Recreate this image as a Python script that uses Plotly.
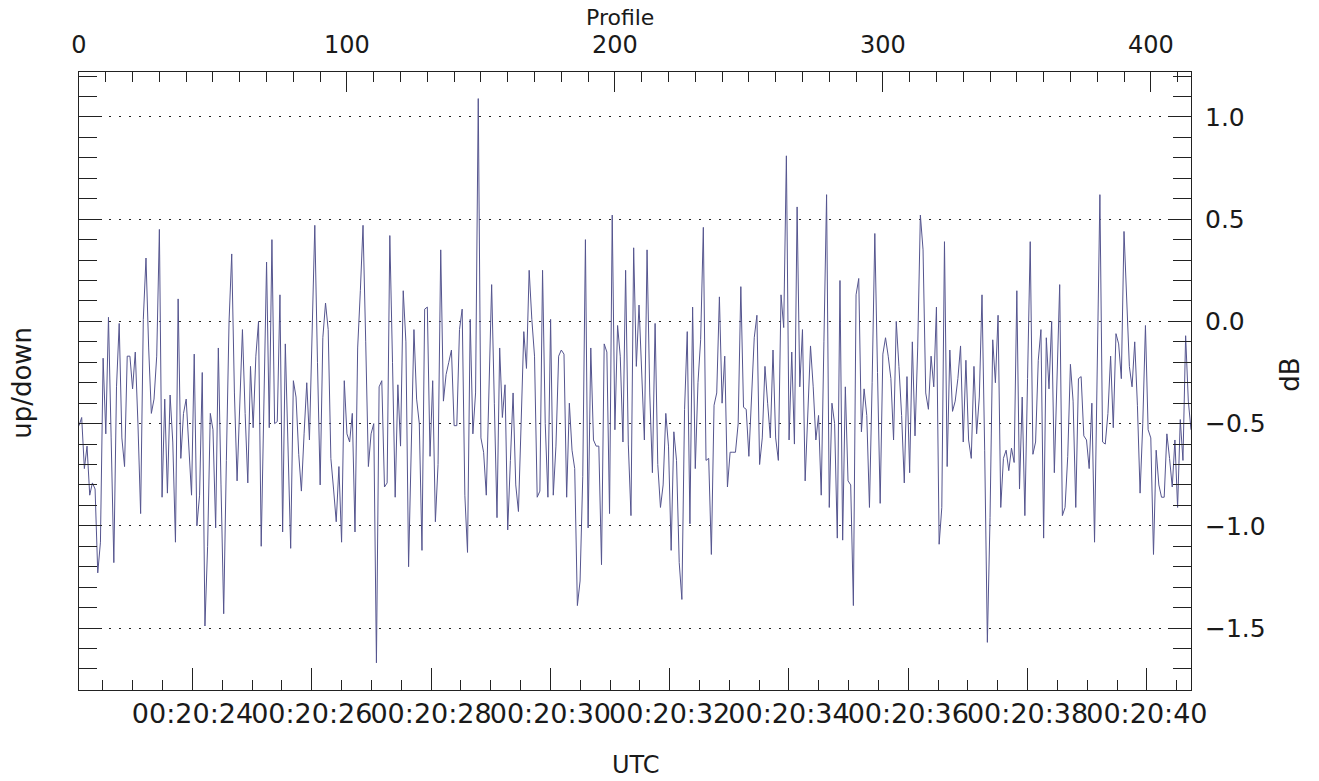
import numpy as np
import pandas as pd
import plotly.graph_objects as go

# ---- data ----
updown_db = [
    -0.51, -0.47, -0.72, -0.61, -0.85, -0.79, -0.82, -1.23, -1.08, -0.18,
    -0.55, 0.02, -0.57, -1.18, -0.32, -0.01, -0.57, -0.71, -0.17, -0.17,
    -0.33, -0.15, -0.50, -0.94, 0.01, 0.31, -0.13, -0.45, -0.38, -0.17,
    0.45, -0.86, -0.38, -0.84, -0.36, -0.59, -1.08, 0.11, -0.67, -0.45,
    -0.38, -0.60, -0.85, -0.16, -1.00, -0.85, -0.25, -1.49, -1.10, -0.45,
    -0.53, -1.01, -0.13, -0.80, -1.43, -0.68, 0.00, 0.33, -0.35, -0.78,
    -0.35, -0.04, -0.45, -0.79, -0.22, -0.52, -0.17, 0.00, -1.10, -0.30,
    0.29, -0.52, 0.40, -0.50, -0.49, 0.13, -1.03, -0.11, -0.60, -1.11,
    -0.29, -0.37, -0.65, -0.83, -0.55, -0.30, -0.58, -0.05, 0.47, -0.20,
    -0.80, -0.08, 0.09, -0.04, -0.67, -0.82, -0.98, -0.71, -1.08, -0.29,
    -0.55, -0.59, -0.45, -1.03, -0.13, 0.15, 0.47, -0.10, -0.71, -0.55,
    -0.50, -1.67, -0.32, -0.29, -0.81, -0.79, 0.42, -0.20, -0.86, -0.31,
    -0.61, 0.15, -0.10, -1.20, -0.60, -0.04, -0.38, -0.50, -1.12, 0.06,
    0.07, -0.66, -0.29, -0.98, -0.70, 0.35, -0.39, -0.26, -0.20, -0.14,
    -0.51, -0.51, -0.04, 0.06, -0.85, -1.13, 0.01, -0.55, -0.35, 1.09,
    -0.57, -0.64, -0.85, -0.30, 0.18, -0.40, -0.96, -0.13, -0.47, -0.31,
    -1.02, -0.68, -0.35, -0.80, -0.93, -0.50, -0.05, -0.23, 0.25, 0.01,
    -0.17, -0.86, -0.83, 0.25, -0.50, -0.86, 0.01, -0.85, -0.61, -0.17,
    -0.14, -0.16, -0.86, -0.40, -0.63, -0.72, -1.39, -1.27, -0.76, 0.40,
    -1.01, -0.13, -0.58, -0.61, -0.61, -1.19, -0.11, -0.15, -0.94, 0.52,
    -0.53, -0.02, -0.17, -0.59, 0.25, -0.60, -0.95, 0.36, -0.22, 0.08,
    -0.25, -0.58, 0.35, -0.35, -0.74, -0.01, -0.70, -0.91, -0.80, -0.45,
    -0.61, -1.12, -0.54, -0.68, -1.18, -1.36, -0.43, -0.05, -0.99, 0.07,
    -0.72, -0.30, -0.09, 0.46, -0.68, -0.67, -1.14, -0.41, -0.35, 0.12,
    -0.40, -0.17, -0.81, -0.64, -0.64, -0.64, -0.50, 0.17, -0.42, -0.43,
    -0.66, -0.35, -0.08, 0.03, -0.70, -0.57, -0.22, -0.40, -0.57, -0.14,
    -0.57, -0.68, 0.13, -0.03, 0.81, -0.58, -0.15, -0.60, 0.56, -0.32,
    -0.04, -0.78, -0.45, -0.12, -0.32, -0.58, -0.46, -0.85, -0.10, 0.62,
    -0.91, -0.40, -0.50, -1.06, 0.20, -1.07, -0.32, -0.78, -0.80, -1.39,
    0.13, 0.21, -0.54, -0.33, -0.46, -0.91, -0.30, 0.43, -0.25, -0.89,
    -0.16, -0.08, -0.17, -0.28, -0.58, 0.00, -0.22, -0.46, -0.79, -0.27,
    -0.74, -0.10, -0.56, -0.13, 0.52, 0.35, -0.35, -0.43, -0.17, -0.32,
    0.07, -1.09, -0.91, 0.39, -0.71, -0.14, -0.44, -0.39, -0.28, -0.12,
    -0.59, -0.19, -0.58, -0.67, -0.22, -0.55, -0.37, 0.13, -0.63, -1.57,
    -0.96, -0.09, -0.30, 0.03, -0.91, -0.67, -0.63, -0.73, -0.62, -0.69,
    0.15, -0.82, -0.37, -0.95, -0.28, 0.39, -0.65, -0.59, -0.19, -0.04,
    -1.06, -0.08, -0.33, 0.00, -0.74, -0.25, 0.18, -0.95, -0.91, -0.66,
    -0.21, -0.39, -0.91, -0.28, -0.27, -0.56, -0.58, -0.72, -0.40, -1.08,
    -0.13, 0.62, -0.59, -0.60, -0.45, -0.17, -0.52, -0.06, -0.11, -0.28,
    0.44, 0.12, -0.22, -0.32, -0.10, -0.41, -0.84, -0.50, -0.02, -0.53,
    -0.57, -1.14, -0.63, -0.80, -0.86, -0.86, -0.55, -0.67, -0.81, -0.58,
    -0.91, -0.48, -0.68, -0.07, -0.39, -0.53,
]
profile = list(range(len(updown_db)))

start_time = "2000-01-01 00:20:22.098"
seconds_per_profile = 0.04492

right_tick_vals = [-1.5, -1.0, -0.5, 0.0, 0.5, 1.0]
right_tick_text = ["\u22121.5", "\u22121.0", "\u22120.5", "0.0", "0.5", "1.0"]
top_tick_vals = [0, 100, 200, 300, 400]

y_range = [-1.803, 1.22]
profile_range = [0, 415]

# ---- derived ----
times = pd.Timestamp(start_time) + pd.to_timedelta(np.array(profile) * seconds_per_profile, unit="s")
t_start = pd.Timestamp(start_time)
t_end = t_start + pd.to_timedelta(profile_range[1] * seconds_per_profile, unit="s")

FONT = "DejaVu Sans"
TXT = "#1a1a1a"
LINE = "#55558f"
AX = "#222222"

fig = go.Figure()
# helper trace that anchors the UTC time axis (invisible)
fig.add_trace(go.Scatter(x=times, y=updown_db, xaxis="x", yaxis="y", mode="lines",
                         line=dict(width=0, color="rgba(0,0,0,0)"), hoverinfo="skip",
                         showlegend=False))
# visible series on profile / dB axes
fig.add_trace(go.Scatter(x=profile, y=updown_db, xaxis="x2", yaxis="y2", mode="lines",
                         line=dict(width=1, color=LINE), showlegend=False))


def axis_common(size):
    return dict(showline=True, linecolor=AX, linewidth=1, zeroline=False,
                ticks="inside", tickcolor=AX, tickwidth=1, automargin=False,
                tickfont=dict(family=FONT, size=size, color=TXT))


fig.update_layout(
    width=1319, height=781, autosize=False,
    margin=dict(l=79, r=128, t=72, b=91, pad=0, autoexpand=False),
    paper_bgcolor="white", plot_bgcolor="white",
    font=dict(family=FONT, color=TXT),
    showlegend=False,
    xaxis=dict(**axis_common(27), type="date", range=[t_start, t_end],
               tick0="2000-01-01 00:20:24", dtick=2000, tickformat="%H:%M:%S",
               ticklen=22, tickangle=0, ticklabelstandoff=0, ticklabeloverflow="allow",
               showgrid=False,
               minor=dict(dtick=500, ticklen=10, ticks="inside", tickcolor=AX, showgrid=False)),
    xaxis2=dict(**axis_common(24), overlaying="x", side="top", range=profile_range,
                tickmode="array", tickvals=top_tick_vals, ticklen=20, tickangle=0,
                ticklabelstandoff=8, showgrid=False,
                minor=dict(dtick=10, tick0=0, ticklen=10, ticks="inside", tickcolor=AX, showgrid=False)),
    yaxis=dict(**axis_common(25), range=y_range, tick0=0, dtick=0.5, ticklen=23,
               showticklabels=False, showgrid=True, gridcolor=AX, gridwidth=1,
               griddash="2px,8px",
               minor=dict(dtick=0.1, tick0=0, ticklen=18, ticks="inside", tickcolor=AX, showgrid=False)),
    yaxis2=dict(**axis_common(25), overlaying="y", side="right", range=y_range,
                tickmode="array", tickvals=right_tick_vals, ticktext=right_tick_text,
                ticklen=23, ticklabelstandoff=8, showgrid=False,
                minor=dict(dtick=0.1, tick0=0, ticklen=18, ticks="inside", tickcolor=AX, showgrid=False)),
    annotations=[
        dict(text="Profile", xref="paper", yref="paper", x=0.4865, y=1.088,
             xanchor="center", yanchor="middle", showarrow=False,
             font=dict(family=FONT, size=22, color=TXT)),
        dict(text="UTC", xref="paper", yref="paper", x=0.501, y=-0.121,
             xanchor="center", yanchor="middle", showarrow=False,
             font=dict(family=FONT, size=24, color=TXT)),
        dict(text="up/down", xref="paper", yref="paper", x=-0.0513, y=0.497,
             xanchor="center", yanchor="middle", showarrow=False, textangle=-90,
             font=dict(family=FONT, size=26, color=TXT)),
        dict(text="dB", xref="paper", yref="paper", x=1.089, y=0.51,
             xanchor="center", yanchor="middle", showarrow=False, textangle=-90,
             font=dict(family=FONT, size=26, color=TXT)),
    ],
)

fig.write_html("out.html", config={"displayModeBar": False},
               post_script="document.body.style.margin='0';")
